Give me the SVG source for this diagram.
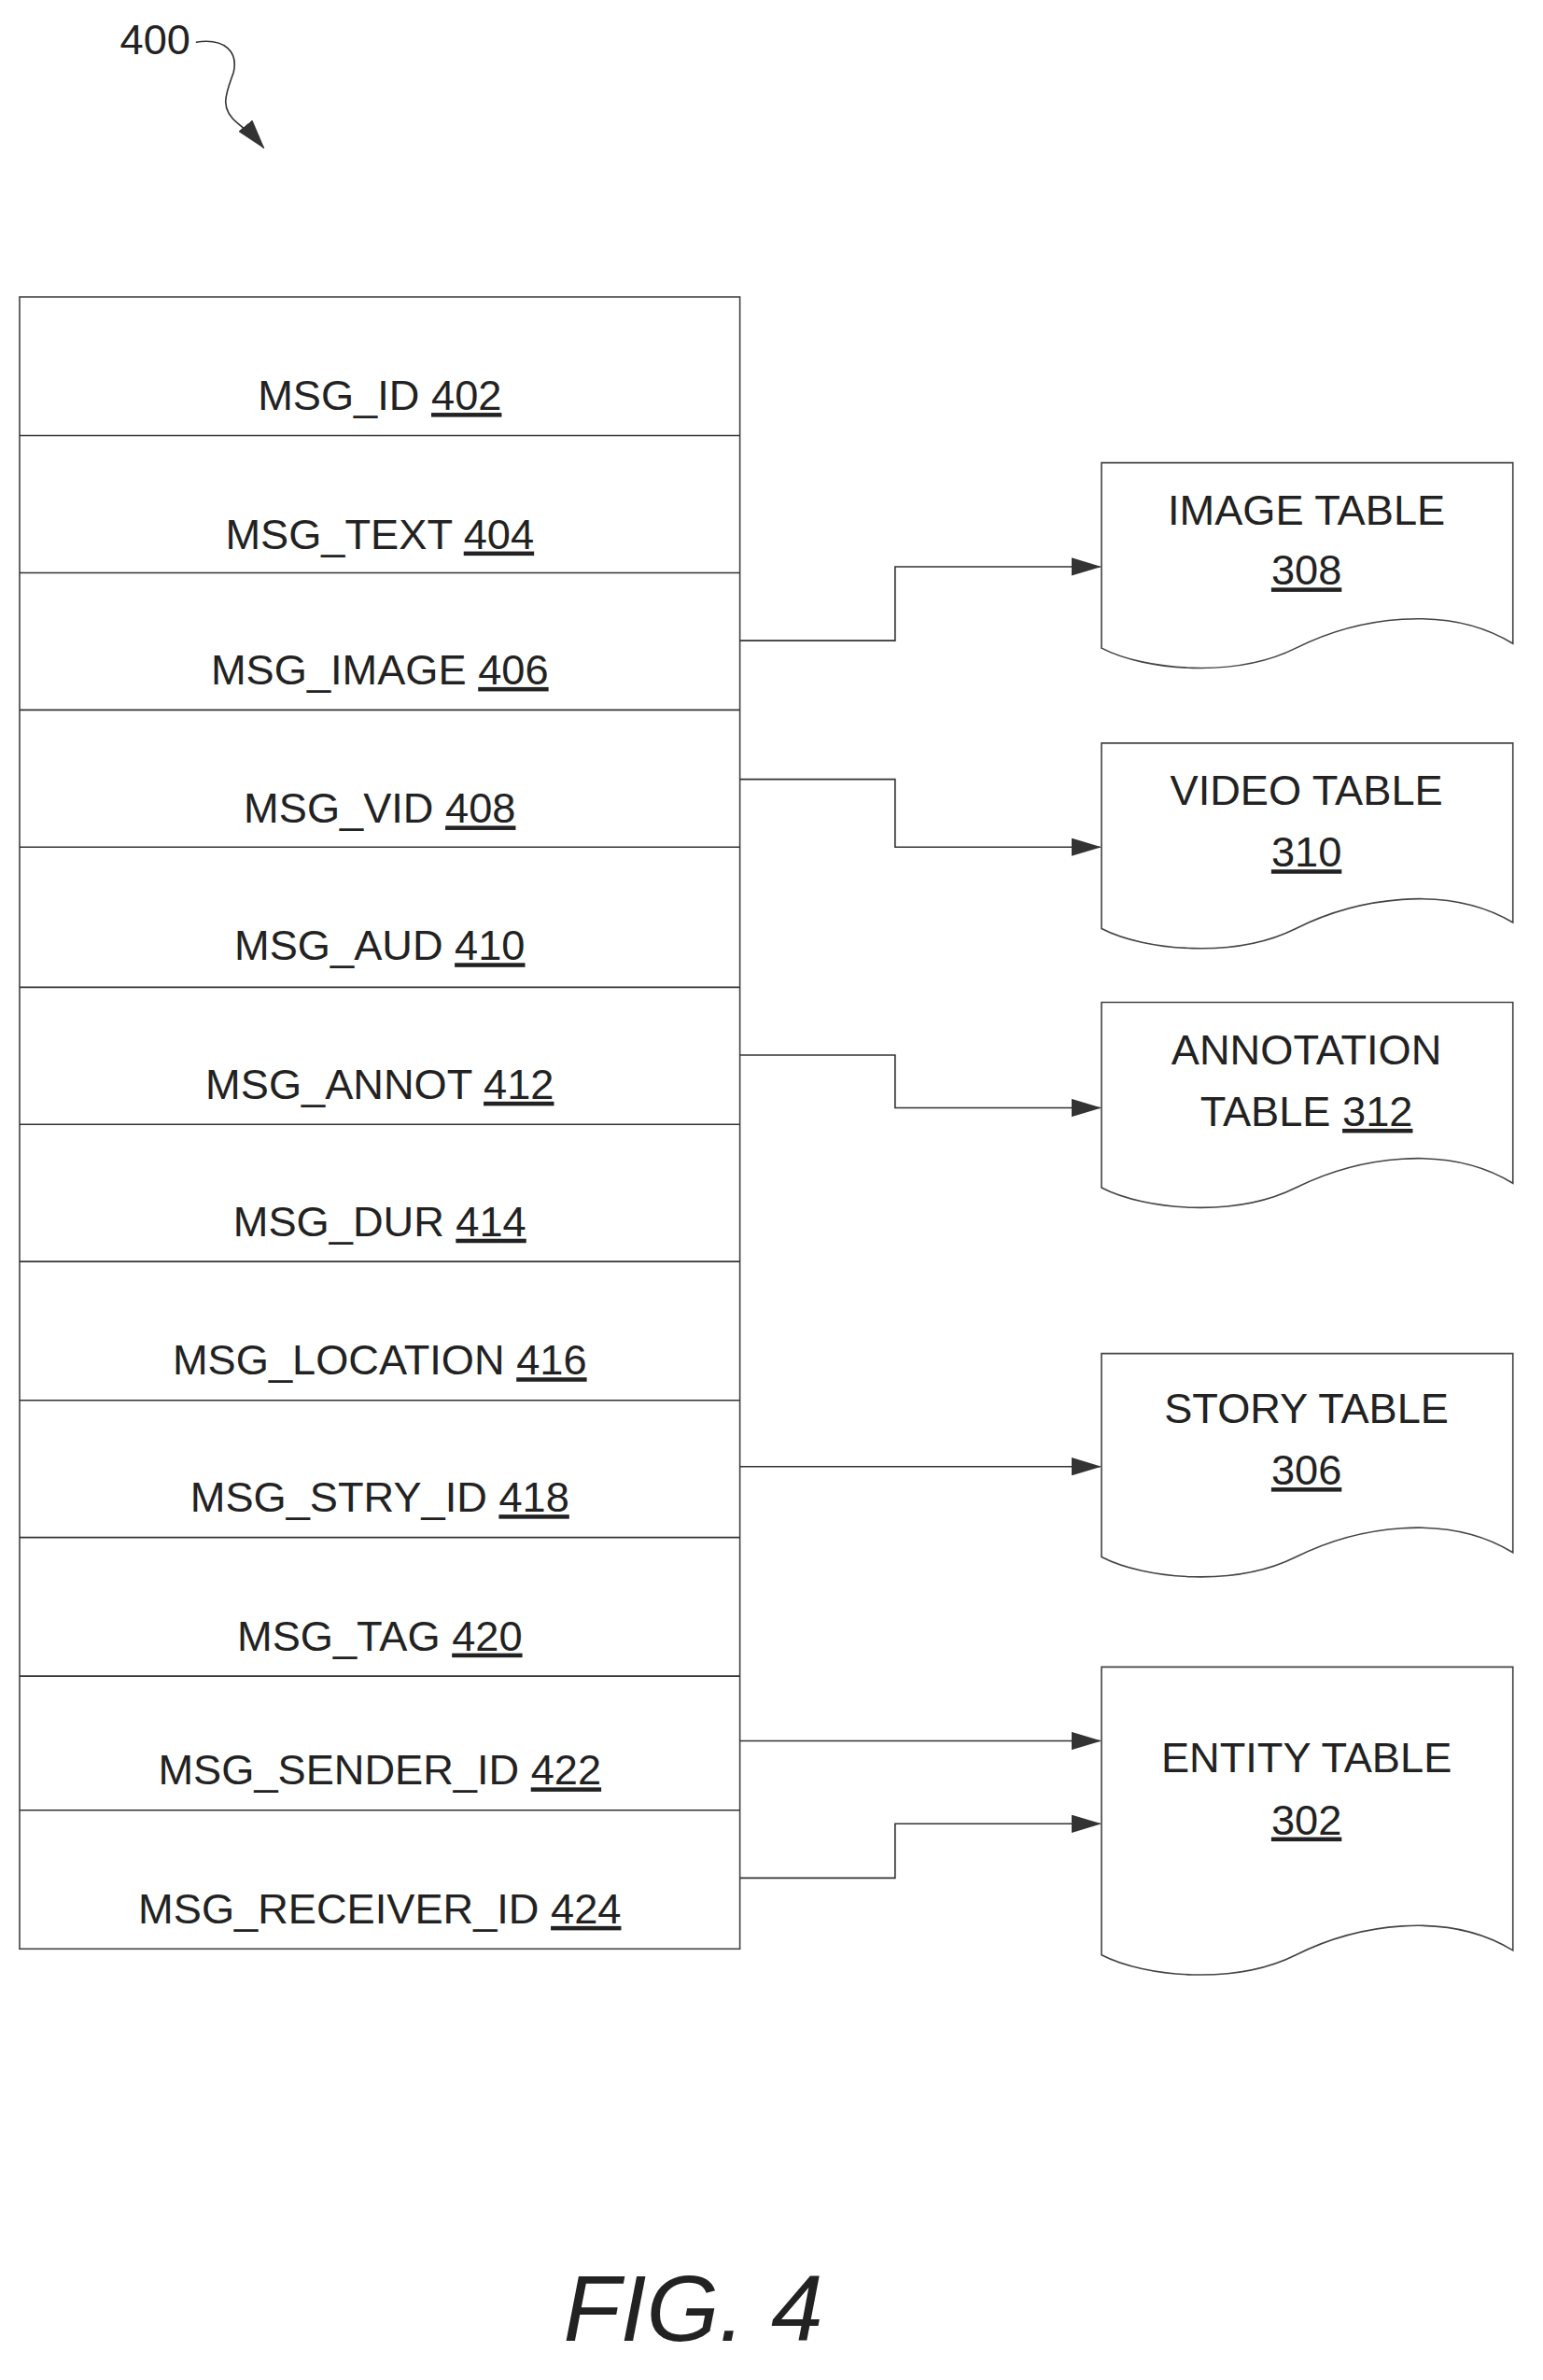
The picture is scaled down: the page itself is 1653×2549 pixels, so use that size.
<svg xmlns="http://www.w3.org/2000/svg" width="1653" height="2549" viewBox="0 0 1653 2549">
<style>
text{font-family:"Liberation Sans",Arial,sans-serif;font-size:28px;fill:#222;text-anchor:middle}
.fig{font-size:62px;font-style:italic}
.b{fill:#fff;stroke:#444;stroke-width:1}
.c{fill:none;stroke:#333;stroke-width:1}
</style>
<defs>
<marker id="a" markerUnits="userSpaceOnUse" markerWidth="20" markerHeight="12" refX="19" refY="6" orient="auto"><path d="M0,0 L20,6 L0,12 Z" fill="#333"/></marker>
</defs>
<rect width="1653" height="2549" fill="#fff"/>
<g transform="scale(1.6143)">
<g id="label400">
<text x="103" y="36">400</text>
<path class="c" d="M130,28 C150,25 158,35 155,48 C150,62 145,72 158,82 C165,88 170,92 175,98" marker-end="url(#a)"/>
</g>
<g id="table">
<rect class="b" x="13" y="197" width="478" height="1096"/>
<g class="c">
<path d="M13,289H491M13,380H491M13,471H491M13,562H491M13,655H491M13,746H491M13,837H491M13,929H491M13,1020H491M13,1112H491M13,1201H491"/>
</g>
<g id="r402"><text x="252" y="272">MSG_ID <tspan text-decoration="underline">402</tspan></text></g>
<g id="r404"><text x="252" y="364">MSG_TEXT <tspan text-decoration="underline">404</tspan></text></g>
<g id="r406"><text x="252" y="454">MSG_IMAGE <tspan text-decoration="underline">406</tspan></text></g>
<g id="r408"><text x="252" y="546">MSG_VID <tspan text-decoration="underline">408</tspan></text></g>
<g id="r410"><text x="252" y="637">MSG_AUD <tspan text-decoration="underline">410</tspan></text></g>
<g id="r412"><text x="252" y="729">MSG_ANNOT <tspan text-decoration="underline">412</tspan></text></g>
<g id="r414"><text x="252" y="820">MSG_DUR <tspan text-decoration="underline">414</tspan></text></g>
<g id="r416"><text x="252" y="912">MSG_LOCATION <tspan text-decoration="underline">416</tspan></text></g>
<g id="r418"><text x="252" y="1003">MSG_STRY_ID <tspan text-decoration="underline">418</tspan></text></g>
<g id="r420"><text x="252" y="1095">MSG_TAG <tspan text-decoration="underline">420</tspan></text></g>
<g id="r422"><text x="252" y="1184">MSG_SENDER_ID <tspan text-decoration="underline">422</tspan></text></g>
<g id="r424"><text x="252" y="1276">MSG_RECEIVER_ID <tspan text-decoration="underline">424</tspan></text></g>
</g>
<g id="image308">
<path class="b" d="M731,307H1004V427C960,400 900,410 860,430C820,450 760,445 731,430Z"/>
<text x="867" y="348">IMAGE TABLE</text><text x="867" y="388" text-decoration="underline">308</text>
</g>
<g id="video310">
<path class="b" d="M731,493H1004V612C960,586 900,596 860,616C820,636 760,631 731,616Z"/>
<text x="867" y="534">VIDEO TABLE</text><text x="867" y="575" text-decoration="underline">310</text>
</g>
<g id="annot312">
<path class="b" d="M731,665H1004V785C960,758 900,768 860,788C820,808 760,803 731,788Z"/>
<text x="867" y="706">ANNOTATION</text><text x="867" y="747">TABLE <tspan text-decoration="underline">312</tspan></text>
</g>
<g id="story306">
<path class="b" d="M731,898H1004V1030C960,1003 900,1013 860,1033C820,1053 760,1048 731,1033Z"/>
<text x="867" y="944">STORY TABLE</text><text x="867" y="985" text-decoration="underline">306</text>
</g>
<g id="entity302">
<path class="b" d="M731,1106H1004V1294C960,1267 900,1277 860,1297C820,1317 760,1312 731,1297Z"/>
<text x="867" y="1176">ENTITY TABLE</text><text x="867" y="1217" text-decoration="underline">302</text>
</g>
<g id="connectors">
<path class="c" d="M491,425H594V376H730" marker-end="url(#a)"/>
<path class="c" d="M491,517H594V562H730" marker-end="url(#a)"/>
<path class="c" d="M491,700H594V735H730" marker-end="url(#a)"/>
<path class="c" d="M491,973H730" marker-end="url(#a)"/>
<path class="c" d="M491,1155H730" marker-end="url(#a)"/>
<path class="c" d="M491,1246H594V1210H730" marker-end="url(#a)"/>
</g>
<text class="fig" x="460" y="1553">FIG. 4</text>
</g>
</svg>
